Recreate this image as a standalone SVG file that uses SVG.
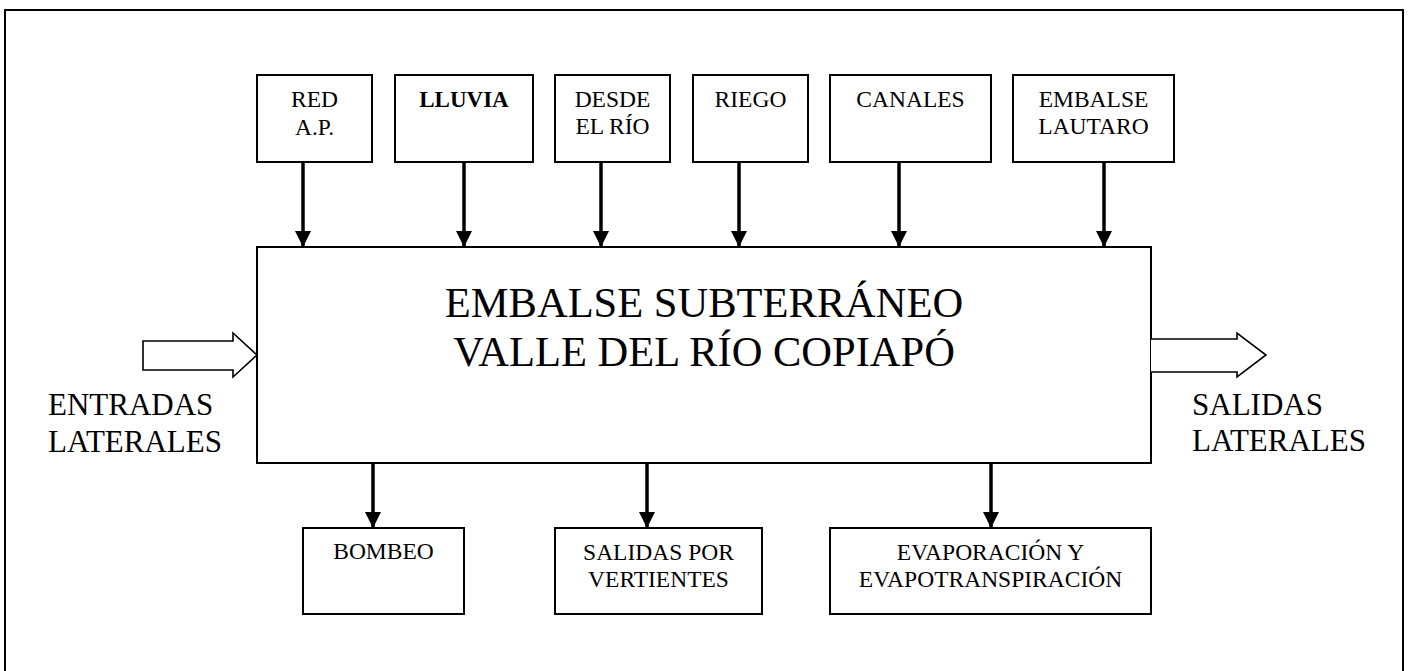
<svg xmlns="http://www.w3.org/2000/svg" width="1408" height="671" viewBox="0 0 1408 671">
<defs>
<style>
.box{fill:#fff;stroke:#000;stroke-width:2}
.t{font-family:"Liberation Serif","Times New Roman",serif;fill:#000;text-anchor:middle;font-size:23.5px}
.tb{font-family:"Liberation Serif","Times New Roman",serif;fill:#000;text-anchor:middle;font-size:23px;font-weight:bold}
.big{font-family:"Liberation Serif","Times New Roman",serif;fill:#000;text-anchor:middle;font-size:42.5px}
.side{font-family:"Liberation Serif","Times New Roman",serif;fill:#000;font-size:31px}
.arr{stroke:#000;stroke-width:3.5;fill:none;marker-end:url(#ah)}
.hollow{fill:#fff;stroke:#000;stroke-width:1.6;stroke-linejoin:miter}
</style>
<marker id="ah" markerUnits="userSpaceOnUse" markerWidth="16" markerHeight="16" viewBox="0 0 16 16" refX="16" refY="8" orient="auto">
<path d="M0,0 L16,8 L0,16 Z" fill="#000"/>
</marker>
</defs>
<rect width="1408" height="671" fill="#fff"/>
<g id="frame"><path d="M5,675 L5,10 L1403,10 L1403,675" fill="none" stroke="#000" stroke-width="2"/></g>

<g id="main"><rect class="box" x="257" y="247" width="894" height="216"/>
<text class="big" x="704" y="317">EMBALSE SUBTERRÁNEO</text>
<text class="big" x="704" y="366">VALLE DEL RÍO COPIAPÓ</text></g>

<g id="red"><rect class="box" x="257" y="75" width="115" height="87"/><text class="t" x="314.5" y="107">RED</text><text class="t" x="314.5" y="135">A.P.</text></g>
<g id="lluvia"><rect class="box" x="395" y="75" width="138" height="87"/><text class="tb" x="464" y="107">LLUVIA</text></g>
<g id="desde"><rect class="box" x="555" y="75" width="115" height="87"/><text class="t" x="612.5" y="107">DESDE</text><text class="t" x="612.5" y="134">EL RÍO</text></g>
<g id="riego"><rect class="box" x="693" y="75" width="115" height="87"/><text class="t" x="750.5" y="107">RIEGO</text></g>
<g id="canales"><rect class="box" x="830" y="75" width="161" height="87"/><text class="t" x="910.5" y="107">CANALES</text></g>
<g id="lautaro"><rect class="box" x="1013" y="75" width="161" height="87"/><text class="t" x="1093.5" y="107">EMBALSE</text><text class="t" x="1093.5" y="134">LAUTARO</text></g>

<g id="bombeo"><rect class="box" x="303" y="528" width="161" height="86"/><text class="t" x="383.5" y="559">BOMBEO</text></g>
<g id="vertientes"><rect class="box" x="555" y="528" width="207" height="86"/><text class="t" x="658.5" y="560">SALIDAS POR</text><text class="t" x="658.5" y="587">VERTIENTES</text></g>
<g id="evap"><rect class="box" x="830" y="528" width="321" height="86"/><text class="t" x="990.5" y="560">EVAPORACIÓN Y</text><text class="t" x="990.5" y="587">EVAPOTRANSPIRACIÓN</text></g>

<g id="entradas"><text class="side" x="48" y="415">ENTRADAS</text><text class="side" x="48" y="452">LATERALES</text></g>
<g id="salidas"><text class="side" x="1192" y="415">SALIDAS</text><text class="side" x="1192" y="451">LATERALES</text></g>

<g id="connectors">
<line class="arr" x1="303" y1="162" x2="303" y2="247"/>
<line class="arr" x1="464" y1="162" x2="464" y2="247"/>
<line class="arr" x1="601" y1="162" x2="601" y2="247"/>
<line class="arr" x1="739" y1="162" x2="739" y2="247"/>
<line class="arr" x1="899" y1="162" x2="899" y2="247"/>
<line class="arr" x1="1104" y1="162" x2="1104" y2="247"/>
<line class="arr" x1="373" y1="463" x2="373" y2="528"/>
<line class="arr" x1="647" y1="463" x2="647" y2="528"/>
<line class="arr" x1="991" y1="463" x2="991" y2="528"/>
<path class="hollow" d="M143,341 L233,341 L233,333 L257,355 L233,377 L233,370 L143,370 Z"/>
<path class="hollow" d="M1151,339 L1237,339 L1237,333 L1266,355 L1237,377 L1237,372 L1151,372"/>
</g>
</svg>
